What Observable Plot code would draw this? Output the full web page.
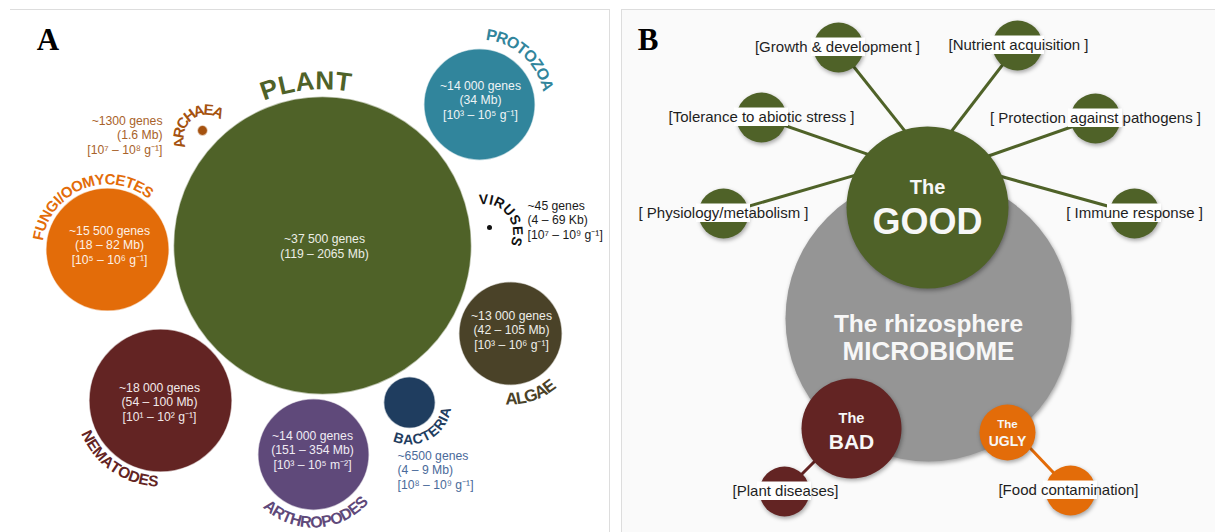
<!DOCTYPE html>
<html><head><meta charset="utf-8">
<script src="https://cdn.jsdelivr.net/npm/d3@7"></script>
<script src="https://cdn.jsdelivr.net/npm/@observablehq/plot@0.6"></script>
<style>
html,body{margin:0;padding:0;background:#fff;}
#chart{display:flex;width:1215px;height:532px;}
.shadow{filter:drop-shadow(1px 2px 2px rgba(0,0,0,0.35));}
</style></head><body><div id="chart"></div>
<script>
// ---------- Panel A data ----------
const groups = ["PLANT","PROTOZOA","FUNGI/OOMYCETES","ARCHAEA","VIRUSES","ALGAE","BACTERIA","ARTHROPODES","NEMATODES"];
const geneCounts = [37500,14000,15500,1300,45,13000,6500,14000,18000];
const geneLabels = ["~37 500 genes","~14 000 genes","~15 500 genes","~1300 genes","~45 genes","~13 000 genes","~6500 genes","~14 000 genes","~18 000 genes"];
const genomeSizes = ["(119 – 2065 Mb)","(34 Mb)","(18 – 82 Mb)","(1.6 Mb)","(4 – 69 Kb)","(42 – 105 Mb)","(4 – 9 Mb)","(151 – 354 Mb)","(54 – 100 Mb)"];
const abundances = ["","[10³ – 10⁵ g⁻¹]","[10⁵ – 10⁶ g⁻¹]","[10⁷ – 10⁸ g⁻¹]","[10⁷ – 10⁹ g⁻¹]","[10³ – 10⁶ g⁻¹]","[10⁸ – 10⁹ g⁻¹]","[10³ – 10⁵ m⁻²]","[10¹ – 10² g⁻¹]"];

// ---------- Panel B data ----------
const hubTitles = ["The rhizosphere","The","The","The"];
const hubWords = ["MICROBIOME","GOOD","BAD","UGLY"];
const goodFunctions = ["[Growth & development ]","[Nutrient acquisition ]","[Tolerance to abiotic stress ]","[ Protection against pathogens ]","[ Physiology/metabolism ]","[ Immune response ]"];
const badFunctions = ["[Plant diseases]"];
const uglyFunctions = ["[Food contamination]"];
const panelLetters = ["A","B"];

// ---------- Layout / styles ----------
const SANS = '"Liberation Sans", Arial, Helvetica, sans-serif';
const SERIF = '"Liberation Serif", "Times New Roman", serif';
const layoutA = [
  {cx:322, cy:245, fill:"#4f6228", arc:{cx:322,cy:245,r:164.5,a1:-18.9,a2:7.3,fs:26}, tx:324, ty:257, ta:"middle", tc:"#eceee6"},
  {cx:479, cy:104, fill:"#31859c", arc:{cx:479,cy:104,r:70,a1:9.9,a2:74,fs:16}, tx:480, ty:118, ta:"middle", tc:"#eef4f6"},
  {cx:107, cy:249, fill:"#e36c09", arc:{cx:107,cy:249,r:70,a1:-78.5,a2:35,fs:15}, tx:109, ty:263, ta:"middle", tc:"#fdf1e7"},
  {cx:202, cy:130, fill:"#a5520f", arc:{cx:206,cy:137,r:27.5,a1:-101,a2:25,fs:15}, tx:162, ty:153, ta:"end", tc:"#a8622a"},
  {cx:489, cy:227, fill:"#111111", arc:{cx:484,cy:232,r:33,a1:-1.6,a2:106,fs:14}, tx:527, ty:238, ta:"start", tc:"#1a1a1a", fixed:true},
  {cx:510, cy:333, fill:"#4a4228", arc:{cx:510,cy:333,r:65.5,a1:179,a2:143.7,fs:17}, tx:511, ty:348, ta:"middle", tc:"#eeeee9"},
  {cx:409, cy:402, fill:"#1f3d5f", arc:{cx:409,cy:402,r:37.5,a1:197,a2:105.5,fs:14}, tx:397, ty:488, ta:"start", tc:"#4a6a9a"},
  {cx:313, cy:454, fill:"#5f497a", arc:{cx:313,cy:454,r:68,a1:219.6,a2:135,fs:16}, tx:312, ty:468, ta:"middle", tc:"#f0ecf4"},
  {cx:160, cy:400, fill:"#632423", arc:{cx:160,cy:400,r:81,a1:243.7,a2:185,fs:15.5}, tx:159, ty:420, ta:"middle", tc:"#f2e9e9"}
];
const hubLayout = [
  {cx:928, cy:318, r:143, fill:"#959595", titleFs:24.5, titleY:331, wordFs:26, wordY:359},
  {cx:927, cy:207, r:81, fill:"#4f6228", titleFs:20, titleY:193, wordFs:36, wordY:233},
  {cx:851, cy:428, r:50, fill:"#632423", titleFs:14.5, titleY:422, wordFs:21, wordY:448},
  {cx:1007, cy:432, r:28, fill:"#e36c09", titleFs:11.5, titleY:427, wordFs:14, wordY:445}
];
const satLayout = [
  {x:838, y:47, tx:837, ex:900, ey:125},
  {x:1017, y:45, tx:1018, ex:957, ey:123},
  {x:761, y:117, tx:761, ex:862, ey:152},
  {x:1095, y:118, tx:1095, ex:995, ey:153},
  {x:723, y:213, tx:723, ex:847, ey:177},
  {x:1134, y:213, tx:1134, ex:1008, ey:178},
  {x:784, y:491, tx:785, ex:813, ey:462},
  {x:1070, y:490, tx:1068, ex:1030, ey:448}
];

// ---------- helpers ----------
const ctx = document.createElement("canvas").getContext("2d");
function arcLetters(label, o, color) {
  ctx.font = `bold ${o.fs}px ${SANS}`;
  const chars = [...label];
  const w = chars.map(c => ctx.measureText(c).width);
  let acc = 0;
  const centers = w.map(wi => { const c = acc + wi / 2; acc += wi; return c; });
  const c0 = centers[0], cn = centers[centers.length - 1];
  return chars.map((ch, i) => {
    const t = (centers[i] - c0) / (cn - c0);
    const a = o.a1 + t * (o.a2 - o.a1);
    const rad = a * Math.PI / 180;
    return {ch, x: o.cx + o.r * Math.sin(rad), y: o.cy - o.r * Math.cos(rad),
            rotate: o.a2 > o.a1 ? a : a - 180, fs: o.fs, fill: color};
  });
}

// ---------- Panel A ----------
const dataA = groups.map((g, i) => ({group: g, genes: geneCounts[i], ...layoutA[i],
  text: [geneLabels[i], genomeSizes[i], abundances[i]].filter(Boolean).join("\n")}));
const letters = dataA.flatMap(d => arcLetters(d.group, d.arc, d.fill));
const blockOpts = a => ({x: "tx", y: "ty", text: "text", fill: "tc", fontSize: 12.2,
  lineHeight: 1.15, lineAnchor: "bottom", textAnchor: a});

const plotA = Plot.plot({
  width: 615, height: 532, margin: 0,
  x: {domain: [0, 615], range: [0, 615], axis: null},
  y: {domain: [0, 532], range: [0, 532], axis: null},
  r: {type: "linear", domain: [0, 37500], range: [0, 149]},
  color: {type: "identity"},
  style: {background: "white", fontFamily: SANS},
  marks: [
    Plot.ruleY([9], {x1: 10, x2: 609, stroke: "#dddddd"}),
    Plot.ruleX([609], {y1: 9, y2: 532, stroke: "#dddddd"}),
    Plot.dot(dataA.filter(d => !d.fixed), {x: "cx", y: "cy", r: "genes", fill: "fill",
      stroke: "white", strokeWidth: 1.5, strokeOpacity: 0.6}),
    Plot.dot(dataA.filter(d => d.fixed), {x: "cx", y: "cy", r: 2.5, fill: "fill"}),
    Plot.text(dataA.filter(d => d.ta === "middle"), blockOpts("middle")),
    Plot.text(dataA.filter(d => d.ta === "start"), blockOpts("start")),
    Plot.text(dataA.filter(d => d.ta === "end"), blockOpts("end")),
    Plot.text(letters, {x: "x", y: "y", text: "ch", rotate: "rotate", fontSize: d => d.fs,
      fill: "fill", fontWeight: "bold", textAnchor: "middle", lineAnchor: "middle"}),
    Plot.text([panelLetters[0]], {x: 47.5, y: 49, text: d => d, fontFamily: SERIF,
      fontWeight: "bold", fontSize: 31, lineAnchor: "bottom", fill: "#000"})
  ]
});

// ---------- Panel B ----------
const hubs = hubWords.map((w, i) => ({word: w, title: hubTitles[i], ...hubLayout[i]}));
const funcs = [...goodFunctions.map(f => ({label: f, color: hubLayout[1].fill})),
               ...badFunctions.map(f => ({label: f, color: hubLayout[2].fill})),
               ...uglyFunctions.map(f => ({label: f, color: hubLayout[3].fill}))];
const sats = funcs.map((f, i) => {
  const s = satLayout[i];
  const dx = s.ex - s.x, dy = s.ey - s.y, L = Math.hypot(dx, dy);
  return {...f, ...s, ex2: s.ex + dx / L * 12, ey2: s.ey + dy / L * 12};
});
const hubText = hubs.flatMap(h => [
  {x: h.cx, y: h.titleY, t: h.title, fs: h.titleFs},
  {x: h.cx, y: h.wordY, t: h.word, fs: h.wordFs}
]);
const SR = 25;

const plotB = Plot.plot({
  width: 600, height: 532, margin: 0,
  x: {domain: [615, 1215], range: [0, 600], axis: null},
  y: {domain: [0, 532], range: [0, 532], axis: null},
  r: {type: "linear", domain: [0, 200], range: [0, 200]},
  color: {type: "identity"},
  style: {background: "white", fontFamily: SANS},
  marks: [
    Plot.rect([0], {x1: 621, x2: 1215, y1: 9, y2: 532, fill: "#fafafa"}),
    Plot.ruleY([9], {x1: 621, x2: 1215, stroke: "#dddddd"}),
    Plot.ruleX([621], {y1: 9, y2: 532, stroke: "#dddddd"}),
    Plot.dot(hubs.slice(0, 1), {x: "cx", y: "cy", r: "r", fill: "fill", className: "shadow"}),
    Plot.link(sats, {x1: "x", y1: "y", x2: "ex2", y2: "ey2", stroke: "color", strokeWidth: 3}),
    Plot.dot(hubs.slice(1), {x: "cx", y: "cy", r: "r", fill: "fill", className: "shadow"}),
    Plot.dot(sats, {x: "x", y: "y", r: SR, fill: "color", className: "shadow"}),
    Plot.rect(sats, {x1: d => d.x - SR - 2, x2: d => d.x + SR + 2, y1: d => d.y - 9.5, y2: d => d.y + 9, fill: "white"}),
    Plot.text(sats, {x: "tx", y: d => d.y, text: "label", fontSize: 15, fill: "#1e1e1e", lineAnchor: "middle"}),
    Plot.text(hubText, {x: "x", y: "y", text: "t", fontSize: d => d.fs, fontWeight: "bold",
      fill: "#f7f7f7", lineAnchor: "bottom"}),
    Plot.text([panelLetters[1]], {x: 647.5, y: 49, text: d => d, fontFamily: SERIF,
      fontWeight: "bold", fontSize: 31, lineAnchor: "bottom", fill: "#000"})
  ]
});

const root = document.getElementById("chart");
root.appendChild(plotA);
root.appendChild(plotB);
</script>
</body></html>
